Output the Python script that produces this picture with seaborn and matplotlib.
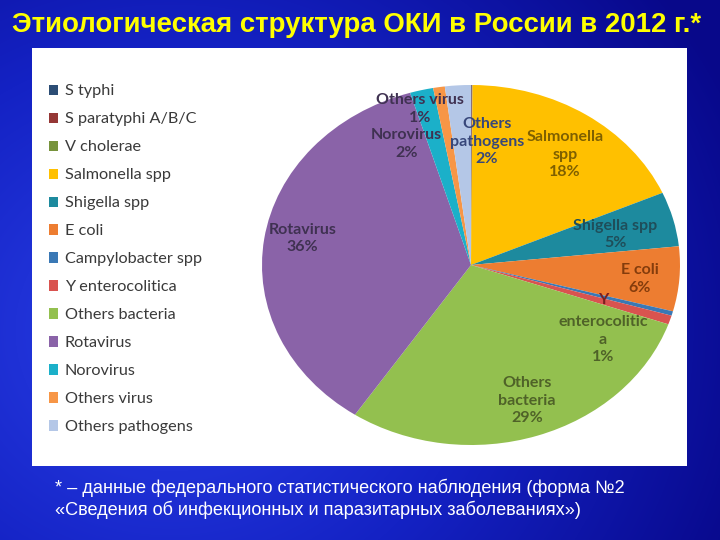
import numpy as np
import pandas as pd
import matplotlib
matplotlib.use("Agg")
import matplotlib.pyplot as plt
import seaborn as sns
from matplotlib.patches import Rectangle
from matplotlib.colors import LinearSegmentedColormap

# Data (percent of cases)
categories = ["S typhi", "S paratyphi A/B/C", "V cholerae", "Salmonella spp",
              "Shigella spp", "E coli", "Campylobacter spp", "Y enterocolitica",
              "Others bacteria", "Rotavirus", "Norovirus", "Others virus",
              "Others pathogens"]
shares = [0.05, 0.05, 0.02, 18.3, 4.9, 5.8, 0.4, 0.8, 29.0, 35.9, 1.8, 0.9, 2.0]
slice_labels = ["", "", "", "Salmonella\nspp\n18%", "Shigella spp\n5%", "E coli\n6%", "",
                "Y\nenterocolitic\na\n1%", "Others\nbacteria\n29%", "Rotavirus\n36%",
                "Norovirus\n2%", "Others virus\n1%", "Others\npathogens\n2%"]

slice_colors = ["#2C4D75", "#953735", "#77933C", "#FFC000", "#1D8A9E", "#ED7D31",
                "#3A78B5", "#D9534F", "#93C04F", "#8A63A8", "#1BB0C9", "#F79646",
                "#B4C7E7"]
label_colors = ["k", "k", "k", "#7F6000", "#1F4E5A", "#843C0C", "k", "#4F6228",
                "#4F6228", "#3F3151", "#3F3151", "#3F3151", "#37477A"]
# label placement: radius (fraction of pie radius) and angle nudge in degrees
label_r = [0, 0, 0, 0.76, 0.71, 0.81, 0, 0.65, 0.80, 0.82, 0.74, 0.90, 0.69]
label_nudge = [0, 0, 0, 3, 1, 1, 0, -4, -1, 2, -11, -7, 10]

sns.set_style("white")
plt.rcParams["font.family"] = ["Liberation Sans", "DejaVu Sans"]

fig = plt.figure(figsize=(7.2, 5.4), dpi=100)

# slide background (blue radial gradient)
bg = fig.add_axes([0, 0, 1, 1], zorder=-10)
yy, xx = np.mgrid[0:540, 0:720]
dist = np.sqrt((xx - 170) ** 2 + ((yy - 330) * 1.1) ** 2) / 620
cmap = LinearSegmentedColormap.from_list("slide", ["#2A40E8", "#1422C4", "#08088A"])
bg.imshow(np.clip(dist, 0, 1), cmap=cmap, aspect="auto", vmin=0, vmax=1)
bg.axis("off")

# white chart panel
fig.patches.append(Rectangle((32 / 720, 1 - 466 / 540), 655 / 720, 418 / 540,
                             transform=fig.transFigure, facecolor="white",
                             edgecolor="none", zorder=-5))

ax = fig.add_axes([262 / 720, 1 - 445 / 540, 418 / 720, 360 / 540])
ax.set_facecolor("none")
wedges, _ = ax.pie(shares, colors=sns.color_palette(slice_colors), startangle=90,
                   counterclock=False, radius=1.0,
                   wedgeprops=dict(linewidth=0))
ax.set_aspect("auto")
ax.set_xlim(-1, 1)
ax.set_ylim(-1, 1)
ax.axis("off")

lab_size = 11.5
lab_spacing = 1.32
for w, lab, col, r, nd in zip(wedges, slice_labels, label_colors, label_r, label_nudge):
    if not lab:
        continue
    mid = np.deg2rad((w.theta1 + w.theta2) / 2 - nd)
    x, y = r * np.cos(mid), r * np.sin(mid)
    style = dict(ha="center", color=col, fontsize=lab_size, family="Lato",
                 fontweight="bold", linespacing=lab_spacing)
    if lab.startswith("Y\n"):
        # first line in dark red, the rest below it
        ax.text(x, y, "Y", va="top", **{**style, "color": "#7A1F1F"})
        ax.annotate(lab[2:], (x, y), xytext=(0, -lab_size * 1.4),
                    textcoords="offset points", va="top", **style)
    else:
        ax.text(x, y, lab, va="center", **style)

leg = fig.legend(wedges, categories, loc="upper left",
                 bbox_to_anchor=(42 / 720, 1 - 78 / 540), frameon=False,
                 prop=dict(family="Lato", size=11.7), labelcolor="#3A3A3A",
                 handlelength=0.6, handleheight=0.6, handletextpad=0.4,
                 labelspacing=0.86, borderaxespad=0)

fig.text(12 / 720, 1 - 25 / 540, "Этиологическая структура ОКИ в России в 2012 г.*",
         color="#FFFF00", fontsize=19.9, fontweight="bold", ha="left", va="center")
fig.text(55 / 720, 1 - 499 / 540,
         "* – данные федерального статистического наблюдения (форма №2\n"
         "«Сведения об инфекционных и паразитарных заболеваниях»)",
         color="white", fontsize=13.1, ha="left", va="center", linespacing=1.25)

fig.savefig("out.png", dpi=100)
